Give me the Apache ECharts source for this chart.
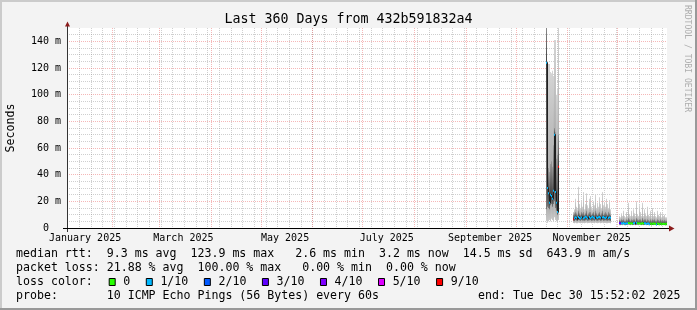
<!DOCTYPE html>
<html><head><meta charset="utf-8">
<script src="https://cdn.jsdelivr.net/npm/echarts@6/dist/echarts.min.js"></script>
<style>html,body{margin:0;padding:0;background:#f3f3f3}#c{width:697px;height:310px}</style>
</head><body><div id="c"></div>
<script>
// ---------- data ----------
const DAY = 86400000;
const START = Date.UTC(2025, 0, 4, 15, 52, 2);
const END = Date.UTC(2025, 11, 30, 15, 52, 2);
const STEP = 0.6 * DAY; // one RRD row per pixel column

const titleText = 'Last 360 Days from 432b591832a4';
const yAxisTitle = 'Seconds';
const watermark = 'RRDTOOL / TOBI OETIKER';
const yTickValues = [0, 20, 40, 60, 80, 100, 120, 140];
const yTickLabels = ['0  ', '20 m', '40 m', '60 m', '80 m', '100 m', '120 m', '140 m'];
const yMinorValues = [5,10,15,25,30,35,45,50,55,65,70,75,85,90,95,105,110,115,125,130,135,145];
const monthLabelNames = ['January 2025', 'March 2025', 'May 2025', 'July 2025', 'September 2025', 'November 2025'];
const monthLabelMonths = [0, 2, 4, 6, 8, 10];
const monthGridMonths = [1, 2, 3, 4, 5, 6, 7, 8, 9, 10, 11];
const firstWeekStart = Date.UTC(2025, 0, 5); // Sundays

const lossLevels = [0, 1, 2, 3, 4, 5, 9];
const lossLabels = ['0', '1/10', '2/10', '3/10', '4/10', '5/10', '9/10'];
const lossColors = ['#26ff00', '#00b8ff', '#0059ff', '#5e00ff', '#7e00ff', '#dd00ff', '#ff0000'];

const legendLines = [
  'median rtt:  9.3 ms avg  123.9 ms max   2.6 ms min  3.2 ms now  14.5 ms sd  643.9 m am/s',
  'packet loss: 21.88 % avg  100.00 % max   0.00 % min  0.00 % now',
  'loss color:',
  'probe:       10 ICMP Echo Pings (56 Bytes) every 60s'
];
const endText = 'end: Tue Dec 30 15:52:02 2025';

// segment 1 (values in ms)
const s1Start = '2025-10-19T01:28:02Z';
const s1Min = [5, 4, 5, 6, 5, 7, 6, 5, 8, 6, 5, 4, 6];
const s1Q1 = [14, 16, 15, 14, 17, 18, 16, 18, 20, 15, 13, 10, 18];
const s1Q3 = [155, 40, 45, 42, 48, 50, 46, 62, 75, 72, 52, 55, 70];
const s1Max = [160, 108, 123, 123, 117, 116, 118, 114, 141, 141, 100, 105, 160];
const s1Med = [123.9, 30, 26, 19, 25, 24, 22, 28, 70, 27, 19, 12, 46];
const s1Loss = [1, 1, 1, 1, 1, 1, 1, 1, 1, 1, 1, 1, 9];

// segment 2
const s2Start = '2025-11-04T06:16:02Z';
const s2Min = [3.7,3.5,3.9,3.6,3.5,4,3.7,3.5,3.8,3.6,3.7,3.5,3.8,3.9,3.6,3.7,3.8,3.9,3.5,3.7,3.8,3.6,4,3.7,3.5,3.8,3.9,3.6,3.7,3.9,3.6,3.7,3.8,3.6,3.5,3.8,3.7,3.5];
const s2Q1 = [5.5,5.2,6,5.6,5.3,6.2,5.8,5.4,6,5.6,5.7,5.4,5.9,6.1,5.5,5.6,5.8,6,5.4,5.7,5.9,5.5,6.2,5.6,5.4,5.8,6,5.5,5.6,6.1,5.5,5.7,5.9,5.6,5.4,5.8,5.7,5.3];
const s2Q3 = [10,11,12,11,10,13,11,10,12,11,12,10,11,13,10,11,12,12,10,11,12,10,13,11,10,11,12,10,11,13,10,11,12,11,10,12,11,10];
const s2Max = [12,14,22,16,14,31,18,15,20,16,27,14,18,26,17,15,22,24,16,14,20,17,25,15,19,16,23,18,15,27,17,19,16,22,18,15,21,14];
const s2Med = [6.5,7.2,8,7.6,6.9,8.3,7.5,7.1,7.9,8.1,7.3,7.7,8.4,8,7.2,7.6,8.2,7.4,7.8,8.5,7.9,7.3,7.7,8.1,7.5,8,8.3,7.6,7.2,7.9,8.2,7.7,7.4,8,7.8,7.5,8.1,7.6];
const s2Loss = [9,1,1,1,null,1,1,1,1,null,1,1,1,1,1,null,1,1,1,1,1,1,null,1,1,1,1,1,null,1,1,1,1,1,null,1,1,1];

// segment 3
const s3Start = '2025-12-01T20:40:02Z';
const s3Min = [2.1,2.0,2.2,2.1,2.3,2.0,1.9,2.2,2.1,2.3,2.2,2.0,2.3,2.1,2.2,2.3,2.0,2.3,2.2,2.1,2.3,2.2,2.0,2.3,2.1,2.2,2.3,2.0,2.2,2.1,2.0,2.2,1.9,2.2,2.1,2.2,2.0,1.9,2.2,2.1,2.0,2.2,1.9,2.1,2.0,2.1,1.9,1.9];
const s3Q1 = [2.6,2.5,2.7,2.6,2.8,2.5,2.4,2.7,2.6,2.9,2.7,2.5,2.8,2.6,2.7,2.8,2.5,2.9,2.7,2.6,2.8,2.7,2.5,2.9,2.6,2.7,2.8,2.5,2.7,2.6,2.5,2.7,2.4,2.7,2.6,2.7,2.5,2.3,2.7,2.6,2.5,2.7,2.4,2.6,2.5,2.6,2.4,2.4];
const s3Q3 = [6,5.5,6.5,6,6.5,5.5,5.5,6.5,6,7.5,6.5,5.5,6.5,6,6.5,6.5,5.5,7.5,6.5,6,6.5,6.5,5.5,7.5,6,6.5,6.5,5.5,6.5,6,5.5,6.5,5.5,6.5,6,6.5,5.5,5.5,6.5,6,5.5,6.5,5.5,6,5.5,6,5.5,5.5];
const s3Max = [9,8,11,9,13,9,8,12,9,19,10,9,13,9,14,11,9,20,10,9,17,12,9,19,9,14,11,9,16,10,9,13,8,15,9,12,9,8,13,10,9,12,8,11,9,10,8,8];
const s3Med = [3.8,3.5,3.6,3.4,3.7,3.3,3.2,3.5,3.4,3.8,3.6,3.3,3.5,3.2,3.6,3.7,3.1,3.9,3.5,3.3,3.6,3.4,3.1,3.8,3.2,3.5,3.6,3.0,3.4,3.3,2.9,3.4,2.8,3.3,3.1,3.4,3.0,2.6,3.3,3.1,2.9,3.3,2.8,3.1,3.0,3.2,2.9,3.2];
const s3Loss = [3,3,1,1,1,1,1,1,1,0,0,0,0,0,1,1,null,1,0,0,0,0,0,0,0,1,1,1,1,1,1,0,0,0,0,0,0,1,0,0,0,0,0,0,0,0,0,0];

// ---------- build ----------
const segments = [
  {start: s1Start, min: s1Min, q1: s1Q1, q3: s1Q3, max: s1Max, med: s1Med, loss: s1Loss},
  {start: s2Start, min: s2Min, q1: s2Q1, q3: s2Q3, max: s2Max, med: s2Med, loss: s2Loss},
  {start: s3Start, min: s3Min, q1: s3Q1, q3: s3Q3, max: s3Max, med: s3Med, loss: s3Loss}
];
const rows = [];
segments.forEach(s => {
  const t0 = Date.parse(s.start);
  s.med.forEach((m, i) => {
    rows.push({t: t0 + i * STEP, min: s.min[i], q1: s.q1[i], q3: s.q3[i], max: s.max[i], med: m,
               loss: s.loss[i], prevMed: i > 0 ? s.med[i - 1] : null});
  });
});

const monthStarts = monthGridMonths.map(m => Date.UTC(2025, m, 1));
const labelPos = monthLabelMonths.map(m => Date.UTC(2025, m, 1) + 14.5 * DAY);
const weekStarts = [];
for (let t = firstWeekStart; t < END; t += 7 * DAY) weekStarts.push(t);

const FONT = 'DejaVu Sans Mono';
const GL = 67, GT = 28, GW = 600, GH = 200;
const ARROW = '#8b1c1c';
const MGRID = 'rgba(232,96,96,0.45)';
const GRID = 'rgba(140,140,140,0.42)';

function lossColor(l) { return lossColors[lossLevels.indexOf(l)]; }

function renderSample(params, api) {
  const r = rows[params.dataIndex];
  const x0 = api.coord([r.t, 0])[0];
  const w = api.size([STEP, 0])[0];
  const y = v => api.coord([r.t, v])[1];
  const yMax = y(r.max), yQ3 = y(r.q3), yMed = y(r.med), yQ1 = y(r.q1), yMin = y(r.min);
  const oh = yMin - yMax;
  const f = yy => Math.min(1, Math.max(0, (yy - yMax) / oh));
  const ih = yQ1 - yQ3;
  const g = Math.min(1, Math.max(0, (yMed - yQ3) / ih));
  const ch = [
    {type: 'rect', shape: {x: x0, y: yMax, width: w, height: oh},
     style: {fill: {type: 'linear', x: 0, y: 0, x2: 0, y2: 1, colorStops: [
       {offset: 0, color: '#d4d4d4'}, {offset: f(yQ3), color: '#b0b0b0'},
       {offset: f(yQ1), color: '#b0b0b0'}, {offset: 1, color: '#c8c8c8'}]}}},
    {type: 'rect', shape: {x: x0, y: yQ3, width: w, height: ih},
     style: {fill: {type: 'linear', x: 0, y: 0, x2: 0, y2: 1, colorStops: [
       {offset: 0, color: '#989898'}, {offset: g, color: '#404040'}, {offset: 1, color: '#787878'}]}}}
  ];
  if (r.prevMed != null) {
    const yp = y(r.prevMed);
    ch.push({type: 'rect', shape: {x: x0, y: Math.min(yp, yMed) - 0.5, width: 1, height: Math.abs(yp - yMed) + 1}, style: {fill: '#202020'}});
  }
  ch.push({type: 'rect', shape: {x: x0, y: yMed - 0.5, width: w, height: 1}, style: {fill: '#202020'}});
  if (r.loss != null) {
    ch.push({type: 'rect', shape: {x: x0, y: yMed - 1, width: w, height: 2}, style: {fill: lossColor(r.loss)}});
  }
  return {type: 'group', children: ch};
}

// legend graphic (boxes + labels)
const LX = 16, CW = 6.99;
const graphics = [];
graphics.push({type: 'rect', shape: {x: 0, y: 0, width: 697, height: 2}, style: {fill: '#cbcbcb'}, silent: true});
graphics.push({type: 'rect', shape: {x: 0, y: 0, width: 2, height: 310}, style: {fill: '#cbcbcb'}, silent: true});
graphics.push({type: 'rect', shape: {x: 0, y: 308, width: 697, height: 2}, style: {fill: '#999999'}, silent: true});
graphics.push({type: 'rect', shape: {x: 695, y: 0, width: 2, height: 310}, style: {fill: '#999999'}, silent: true});
graphics.push({type: 'text', x: 348.5, y: 19.3, style: {text: titleText, font: '13.3px "' + FONT + '"', fill: '#000', align: 'center', verticalAlign: 'middle'}});
graphics.push({type: 'text', x: 10.5, y: GT + GH / 2, rotation: Math.PI / 2, style: {text: yAxisTitle, font: '11.6px "' + FONT + '"', fill: '#000', align: 'center', verticalAlign: 'middle'}});
graphics.push({type: 'text', x: 687.3, y: 58.5, rotation: -Math.PI / 2, style: {text: watermark, font: '8.1px "' + FONT + '"', fill: '#adadad', align: 'center', verticalAlign: 'middle'}});
const lineY = [254.3, 268.3, 282.3, 296.3];
legendLines.forEach((s, i) => {
  graphics.push({type: 'text', x: LX, y: lineY[i], style: {text: s, font: '11.6px "' + FONT + '"', fill: '#000', align: 'left', verticalAlign: 'middle'}});
});
graphics.push({type: 'text', x: 478, y: lineY[3], style: {text: endText, font: '11.6px "' + FONT + '"', fill: '#000', align: 'left', verticalAlign: 'middle'}});
let bx = 108.7;
lossLabels.forEach((lab, i) => {
  graphics.push({type: 'rect', shape: {x: bx + 0.5, y: 278.5, width: 6, height: 7}, style: {fill: lossColors[i], stroke: '#000', lineWidth: 1}});
  graphics.push({type: 'text', x: bx + 14.6, y: lineY[2], style: {text: lab, font: '11.6px "' + FONT + '"', fill: '#000', align: 'left', verticalAlign: 'middle'}});
  bx += 14.6 + lab.length * CW + 15.5;
});
// axis overhangs and arrows
graphics.push({type: 'rect', shape: {x: GL - 4, y: GT + GH, width: 4, height: 1}, style: {fill: '#000'}});
graphics.push({type: 'rect', shape: {x: GL + GW, y: GT + GH, width: 3, height: 1}, style: {fill: '#000'}});
graphics.push({type: 'rect', shape: {x: GL, y: GT + GH, width: 1, height: 4}, style: {fill: '#333'}});
graphics.push({type: 'rect', shape: {x: GL, y: GT - 3, width: 1, height: 3}, style: {fill: '#333'}});
graphics.push({type: 'polygon', shape: {points: [[GL - 2, GT - 1.5], [GL + 0.5, GT - 6.5], [GL + 3, GT - 1.5]]}, style: {fill: ARROW}});
graphics.push({type: 'polygon', shape: {points: [[GL + GW + 2, GT + GH - 2.5], [GL + GW + 7.5, GT + GH + 0.5], [GL + GW + 2, GT + GH + 3.5]]}, style: {fill: ARROW}});

const labelMap = {};
labelPos.forEach((v, i) => { labelMap[v] = monthLabelNames[i]; });

const chart = echarts.init(document.getElementById('c'), null, {renderer: 'canvas', width: 697, height: 310});
chart.setOption({
  animation: false,
  backgroundColor: '#f3f3f3',
  textStyle: {fontFamily: FONT},
  grid: {left: GL, top: GT, width: GW, height: GH, show: true, backgroundColor: '#ffffff', borderWidth: 0, containLabel: false, outerBoundsMode: 'none'},
  xAxis: [
    {type: 'value', min: START, max: END, position: 'bottom', z: 1,
     axisLine: {show: true, onZero: false, lineStyle: {color: '#000', width: 1}},
     axisTick: {show: false, customValues: monthStarts},
     axisLabel: {customValues: labelPos, formatter: v => labelMap[v] || '', fontFamily: FONT, fontSize: 10, color: '#000', margin: 10, verticalAlign: 'middle'},
     splitLine: {show: true, lineStyle: {color: MGRID, width: 1, type: [1, 1]}}},
    {type: 'value', min: START, max: END, position: 'bottom', z: 0,
     axisLine: {show: false}, axisTick: {show: false, customValues: weekStarts}, axisLabel: {show: false},
     splitLine: {show: true, lineStyle: {color: GRID, width: 1, type: [1, 1]}}}
  ],
  yAxis: [
    {type: 'value', min: 0, max: 150, z: 1,
     axisLine: {show: true, onZero: false, lineStyle: {color: '#333', width: 1}},
     axisTick: {show: false, customValues: yTickValues},
     axisLabel: {customValues: yTickValues, formatter: v => yTickLabels[yTickValues.indexOf(v)], fontFamily: FONT, fontSize: 10, color: '#000', margin: 6},
     splitLine: {show: true, lineStyle: {color: MGRID, width: 1, type: [1, 1]}}},
    {type: 'value', min: 0, max: 150, z: 0,
     axisLine: {show: false}, axisTick: {show: false, customValues: yMinorValues}, axisLabel: {show: false},
     splitLine: {show: true, lineStyle: {color: GRID, width: 1, type: [1, 1]}}}
  ],
  series: [{
    type: 'custom', xAxisIndex: 0, yAxisIndex: 0, clip: true, z: 2,
    renderItem: renderSample,
    data: rows.map(r => [r.t, r.min, r.q1, r.q3, r.max, r.med]),
    encode: {x: 0, y: [1, 2, 3, 4, 5]}
  }],
  graphic: {elements: graphics}
});
</script></body></html>
